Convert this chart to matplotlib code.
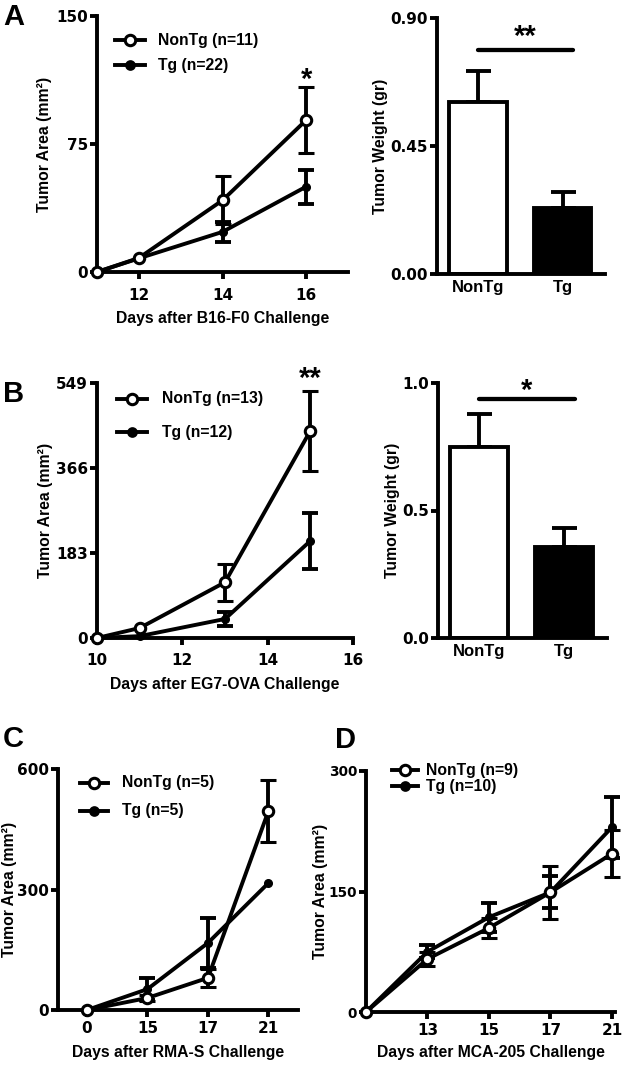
import matplotlib
matplotlib.use("Agg")
import matplotlib.pyplot as plt
import matplotlib.transforms as mtransforms
import numpy as np

plt.rcParams['font.family'] = ['Liberation Sans', 'DejaVu Sans']
plt.rcParams['font.weight'] = 'bold'

# ---------------- data ----------------
# Panel A (B16-F0)
a_days = [11, 12, 14, 16]
a_nontg = [0, 8.2, 42, 89]
a_nontg_err = [0, 0, 14, 19.5]
a_tg = [0, 8, 23.5, 50]
a_tg_err = [0, 0, 6, 10]
a_xticks = [12, 14, 16]
a_yticks = [0, 75, 150]

a_bar_groups = ['NonTg', 'Tg']
a_bar_vals = [0.605, 0.232]
a_bar_err = [0.11, 0.056]
a_bar_yticks = [0.00, 0.45, 0.90]
a_bar_yticklabels = ['0.00', '0.45', '0.90']

# Panel B (EG7-OVA)
b_days = [10, 11, 13, 15]
b_nontg = [0, 21.5, 120, 446]
b_nontg_err = [0, 0, 40, 86]
b_tg = [0, 4, 41, 209]
b_tg_err = [0, 0, 15, 61]
b_xticks = [10, 12, 14, 16]
b_yticks = [0, 183, 366, 549]

b_bar_groups = ['NonTg', 'Tg']
b_bar_vals = [0.749, 0.357]
b_bar_err = [0.129, 0.074]
b_bar_yticks = [0.0, 0.5, 1.0]
b_bar_yticklabels = ['0.0', '0.5', '1.0']

# Panel C (RMA-S)
c_labels = ['0', '15', '17', '21']
c_nontg = [0, 30, 80, 495]
c_nontg_err = [0, 8, 23, 77]
c_tg = [0, 52, 167, 316]
c_tg_err = [0, 28, 62, 0]
c_yticks = [0, 300, 600]

# Panel D (MCA-205)
d_labels = ['', '13', '15', '17', '21']
d_nontg = [0, 66, 104.6, 149, 197]
d_nontg_err = [0, 9, 13, 33, 29]
d_tg = [0, 75, 118, 149, 230]
d_tg_err = [0, 8, 18, 20, 38]
d_yticks = [0, 150, 300]

# ---------------- style ----------------
W, H = 622, 1066
LW = 2.8
FS_LAB = 11.3
FS_LEG = 11.3
FS_TICK = 11
NUMFONT = ['DejaVu Sans']

fig = plt.figure(figsize=(W / 100, H / 100), dpi=100)


def ax_px(left, top, right, bottom):
    return fig.add_axes([left / W, 1 - bottom / H, (right - left) / W, (bottom - top) / H])


def px_to_axes(ax, xpx, ypx):
    inv = ax.transAxes.inverted()
    return inv.transform((xpx, H - ypx))


def style(ax, xpad, numeric_x=True, ytick_fs=FS_TICK):
    for s in ['top', 'right']:
        ax.spines[s].set_visible(False)
    for s in ['left', 'bottom']:
        ax.spines[s].set_linewidth(LW)
    ax.tick_params(axis='y', direction='out', length=5, width=LW, labelsize=ytick_fs, pad=1.5)
    ax.tick_params(axis='x', direction='out', length=5, width=LW, labelsize=FS_TICK, pad=xpad)
    for lab in ax.get_yticklabels():
        lab.set_fontweight('bold')
        lab.set_family(NUMFONT)
    for lab in ax.get_xticklabels():
        lab.set_fontweight('bold')
        if numeric_x:
            lab.set_family(NUMFONT)
        else:
            lab.set_fontsize(12)


def set_labels(ax, xlabel, ylabel, xlab_y, ylab_x):
    ax.set_xlabel(xlabel, fontsize=FS_LAB, fontweight='bold')
    ax.set_ylabel(ylabel, fontsize=FS_LAB, fontweight='bold')
    if xlabel:
        fx, fy = px_to_axes(ax, 0, xlab_y)
        ax.xaxis.set_label_coords(0.5, fy)
        ax.xaxis.label.set_va('center')
    fx, fy = px_to_axes(ax, ylab_x, 0)
    ax.yaxis.set_label_coords(fx, 0.5)
    ax.yaxis.label.set_va('center')


def star(ax, xdata, ypx, s, fs=21):
    tr = mtransforms.blended_transform_factory(ax.transData, fig.transFigure)
    base = ypx + 0.57 * fs * 100 / 72
    ax.text(xdata, 1 - base / H, s, transform=tr, ha='center', va='baseline',
            fontsize=fs, fontweight='bold', clip_on=False)


def line_panel(ax, x, nontg, nerr, tg, terr):
    nerr = np.array(nerr, float)
    terr = np.array(terr, float)
    ax.errorbar(x, tg, yerr=np.where(terr > 0, terr, np.nan), color='black', lw=LW,
                marker='o', ms=5.5, mfc='black', mec='black', elinewidth=LW,
                capsize=5.5, capthick=LW, clip_on=False, zorder=3)
    ax.errorbar(x, nontg, yerr=np.where(nerr > 0, nerr, np.nan), color='black', lw=LW,
                marker='o', ms=7.5, mfc='white', mec='black', mew=2.2, elinewidth=LW,
                capsize=5.5, capthick=LW, clip_on=False, zorder=4)


def legend(lab_n, lab_t, x0, x1, xt, yn, yt):
    for (lab, y, mfc, ms) in [(lab_n, yn, 'white', 7.5), (lab_t, yt, 'black', 5.5)]:
        fig.add_artist(plt.Line2D([x0 / W, x1 / W], [1 - y / H, 1 - y / H], color='black',
                                  lw=LW, transform=fig.transFigure))
        fig.add_artist(plt.Line2D([(x0 + x1) / 2 / W], [1 - y / H], color='black', marker='o',
                                  ms=ms, mfc=mfc, mec='black', mew=2.2, lw=0,
                                  transform=fig.transFigure))
        fig.text(xt / W, 1 - y / H, lab, fontsize=FS_LEG, fontweight='bold', va='center', ha='left')


def bar_panel(ax, groups, vals, errs, yticks, yticklabels, sig, sig_y, star_px, ylab_x):
    pos = np.arange(len(groups))
    ax.bar(pos, vals, width=0.68, color=['white', 'black'], edgecolor='black', lw=LW, zorder=2)
    ax.errorbar(pos, vals, yerr=[np.zeros(len(vals)), errs], fmt='none', ecolor='black',
                elinewidth=LW, capsize=9, capthick=LW, zorder=1)
    ax.set_xlim(-0.48, 1.5)
    ax.set_ylim(yticks[0], yticks[-1])
    ax.set_yticks(yticks)
    ax.set_yticklabels(yticklabels)
    ax.set_xticks(pos)
    ax.set_xticklabels(groups)
    ax.plot([0, 1.12], [sig_y, sig_y], color='black', lw=LW * 1.1, clip_on=False,
            solid_capstyle='round')
    star(ax, 0.56, star_px, sig)
    style(ax, 4, numeric_x=False)
    ax.tick_params(axis='x', length=0)
    set_labels(ax, '', 'Tumor Weight (gr)', 0, ylab_x)


# ---------------- Panel A ----------------
axA = ax_px(97, 16, 348, 272)
line_panel(axA, a_days, a_nontg, a_nontg_err, a_tg, a_tg_err)
axA.set_xlim(11, 17)
axA.set_ylim(0, 150)
axA.set_xticks(a_xticks)
axA.set_yticks(a_yticks)
style(axA, 6.5)
set_labels(axA, 'Days after B16-F0 Challenge', 'Tumor Area (mm²)', 319, 44)
star(axA, 16, 71, '*')
legend('NonTg (n=11)', 'Tg (n=22)', 115, 145, 158, 40, 65)

axAb = ax_px(437, 18, 605, 274)
bar_panel(axAb, a_bar_groups, a_bar_vals, a_bar_err, a_bar_yticks, a_bar_yticklabels,
          '**', 0.787, 28, 380)

# ---------------- Panel B ----------------
axB = ax_px(97, 383, 353, 638)
line_panel(axB, b_days, b_nontg, b_nontg_err, b_tg, b_tg_err)
axB.set_xlim(10, 16)
axB.set_ylim(0, 549)
axB.set_xticks(b_xticks)
axB.set_yticks(b_yticks)
style(axB, 6.0)
set_labels(axB, 'Days after EG7-OVA Challenge', 'Tumor Area (mm²)', 685, 46)
star(axB, 15, 370, '**')
legend('NonTg (n=13)', 'Tg (n=12)', 117, 147, 162, 399, 432)

axBb = ax_px(438, 383, 607, 638)
bar_panel(axBb, b_bar_groups, b_bar_vals, b_bar_err, b_bar_yticks, b_bar_yticklabels,
          '*', 0.937, 382, 393)

# ---------------- Panel C ----------------
axC = ax_px(58, 769, 298, 1010)
c_pos = np.arange(len(c_labels))
line_panel(axC, c_pos, c_nontg, c_nontg_err, c_tg, c_tg_err)
axC.set_xlim(-0.48, 3.49)
axC.set_ylim(0, 600)
axC.set_xticks(c_pos)
axC.set_xticklabels(c_labels)
axC.set_yticks(c_yticks)
style(axC, 3.0)
set_labels(axC, 'Days after RMA-S Challenge', 'Tumor Area (mm²)', 1053, 10)
legend('NonTg (n=5)', 'Tg (n=5)', 80, 108, 122, 783, 811)

# ---------------- Panel D ----------------
axD = ax_px(366, 771, 615, 1012)
d_pos = np.arange(len(d_labels))
line_panel(axD, d_pos, d_nontg, d_nontg_err, d_tg, d_tg_err)
axD.set_xlim(0, 4.05)
axD.set_ylim(0, 300)
axD.set_xticks(d_pos[1:])
axD.set_xticklabels(d_labels[1:])
axD.set_yticks(d_yticks)
style(axD, 3.0, ytick_fs=9.8)
set_labels(axD, 'Days after MCA-205 Challenge', 'Tumor Area (mm²)', 1053, 321)
legend('NonTg (n=9)', 'Tg (n=10)', 392, 418, 426, 770, 786)

# ---------------- panel letters ----------------
for lab, x, y in [('A', 3, 17), ('B', 3, 394), ('C', 3, 739), ('D', 335, 740)]:
    fig.text(x / W, 1 - y / H, lab, fontsize=21, fontweight='bold', va='center', ha='left')

fig.savefig('out.png', dpi=100)
